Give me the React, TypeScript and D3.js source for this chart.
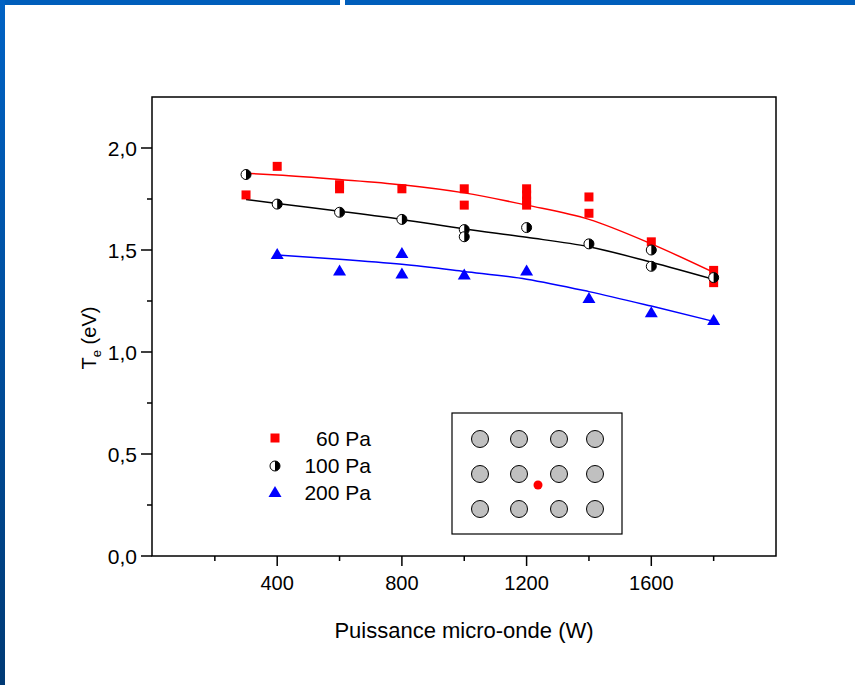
import React from "react";
import * as d3 from "d3";

// ---- Data ----
const power60 = [300, 400, 600, 600, 800, 1000, 1000, 1200, 1200, 1200, 1200, 1400, 1400, 1600, 1800, 1800];
const te60 = [1.77, 1.91, 1.82, 1.80, 1.80, 1.80, 1.72, 1.80, 1.77, 1.74, 1.72, 1.76, 1.68, 1.54, 1.40, 1.34];

const power100 = [300, 400, 600, 800, 1000, 1000, 1200, 1400, 1600, 1600, 1800];
const te100 = [1.87, 1.725, 1.685, 1.65, 1.60, 1.565, 1.61, 1.53, 1.50, 1.42, 1.365];

const power200 = [400, 600, 800, 800, 1000, 1200, 1400, 1600, 1800];
const te200 = [1.48, 1.40, 1.485, 1.385, 1.38, 1.40, 1.265, 1.195, 1.157];

const fitPower = [300, 400, 600, 800, 1000, 1200, 1400, 1600, 1800];
const fit60 = [1.876, 1.868, 1.846, 1.82, 1.78, 1.72, 1.65, 1.53, 1.39];
const fit100 = [1.748, 1.728, 1.69, 1.65, 1.603, 1.562, 1.516, 1.44, 1.356];
const fitPower200 = [400, 600, 800, 1000, 1200, 1400, 1600, 1800];
const fit200 = [1.475, 1.455, 1.43, 1.395, 1.357, 1.296, 1.225, 1.15];

const xMajorTicks = [400, 800, 1200, 1600];
const xMinorTicks = [200, 600, 1000, 1400, 1800];
const yMajorTicks = [0, 0.5, 1.0, 1.5, 2.0];
const yMinorTicks = [0.25, 0.75, 1.25, 1.75];

const legendLabels = ["60 Pa", "100 Pa", "200 Pa"];
const insetCols = [0, 1, 2, 3];
const insetRows = [0, 1, 2];

const FONT = "Arial, 'Liberation Sans', sans-serif";

export default function App() {
  const left = 152, right = 776, top = 97, bottom = 556;
  const x = d3.scaleLinear().domain([0, 2000]).range([left + 0.5, right]);
  const y = d3.scaleLinear().domain([0, 2.25]).range([bottom, top]);

  const line = d3
    .line<[number, number]>()
    .x((d) => x(d[0]))
    .y((d) => y(d[1]))
    .curve(d3.curveMonotoneX);

  const fmt = (v: number) => v.toFixed(1).replace(".", ",");

  const square = (cx: number, cy: number, key: string) => (
    <rect key={key} x={cx - 4.5} y={cy - 4.5} width={9} height={9} fill="#ff0000" />
  );
  const halfCircle = (cx: number, cy: number, key: string) => (
    <g key={key}>
      <circle cx={cx} cy={cy} r={5} fill="#ffffff" stroke="#000" strokeWidth={1} />
      <path d={`M${cx},${cy - 5} A5,5 0 0 1 ${cx},${cy + 5} Z`} fill="#000" />
    </g>
  );
  const triangle = (cx: number, cy: number, key: string) => (
    <path key={key} d={`M${cx},${cy - 6} L${cx + 6.5},${cy + 5} L${cx - 6.5},${cy + 5} Z`} fill="#0000ff" />
  );

  // inset layout
  const insetX = 452, insetY = 413, insetW = 170, insetH = 121;
  const colOffsets = [28, 67, 107, 143];
  const rowY = d3.scalePoint<number>().domain(insetRows).range([insetY + 26, insetY + 96]);

  return (
    <svg
      width={855}
      height={685}
      style={{ position: "absolute", left: 0, top: 0, background: "#fff" }}
      fontFamily={FONT}
    >
      <defs>
        <linearGradient id="leftbar" x1="0" y1="0" x2="0" y2="1">
          <stop offset="0" stopColor="#0062c4" />
          <stop offset="1" stopColor="#003a75" />
        </linearGradient>
      </defs>
      {/* frame decoration */}
      <rect x={0} y={0} width={340} height={5} fill="#005ebb" />
      <rect x={345} y={0} width={510} height={5} fill="#005ebb" />
      <rect x={0} y={0} width={5} height={685} fill="url(#leftbar)" />

      {/* axes box */}
      <rect x={left} y={top} width={right - left} height={bottom - top} fill="none" stroke="#000" strokeWidth={1.5} />

      {/* y ticks */}
      {yMajorTicks.map((t) => (
        <g key={"ym" + t}>
          <line x1={left - 11} x2={left} y1={y(t)} y2={y(t)} stroke="#000" strokeWidth={1.5} />
          <text x={left - 15} y={y(t)} dy="0.36em" textAnchor="end" fontSize={21} fill="#000">
            {fmt(t)}
          </text>
        </g>
      ))}
      {yMinorTicks.map((t) => (
        <line key={"yn" + t} x1={left - 5} x2={left} y1={y(t)} y2={y(t)} stroke="#000" strokeWidth={1.5} />
      ))}

      {/* x ticks */}
      {xMajorTicks.map((t) => (
        <g key={"xm" + t}>
          <line x1={x(t)} x2={x(t)} y1={bottom} y2={bottom + 10} stroke="#000" strokeWidth={1.5} />
          <text x={x(t)} y={bottom + 34} textAnchor="middle" fontSize={20} fill="#000">
            {t}
          </text>
        </g>
      ))}
      {xMinorTicks.map((t) => (
        <line key={"xn" + t} x1={x(t)} x2={x(t)} y1={bottom} y2={bottom + 5} stroke="#000" strokeWidth={1.5} />
      ))}

      {/* axis titles */}
      <text x={(left + right) / 2} y={638} textAnchor="middle" fontSize={22} fill="#000">
        Puissance micro-onde (W)
      </text>
      <text transform={`translate(96,338) rotate(-90)`} textAnchor="middle" fontSize={20} fill="#000">
        T<tspan fontSize={13} dy={5}>e</tspan>
        <tspan dy={-5}> (eV)</tspan>
      </text>

      {/* fit lines */}
      <path d={line(fitPower.map((p, i) => [p, fit60[i]]))!} fill="none" stroke="#ff0000" strokeWidth={1.5} />
      <path d={line(fitPower.map((p, i) => [p, fit100[i]]))!} fill="none" stroke="#000" strokeWidth={1.5} />
      <path d={line(fitPower200.map((p, i) => [p, fit200[i]]))!} fill="none" stroke="#0000ff" strokeWidth={1.5} />

      {/* points */}
      {power60.map((p, i) => square(x(p), y(te60[i]), "s" + i))}
      {power100.map((p, i) => halfCircle(x(p), y(te100[i]), "c" + i))}
      {power200.map((p, i) => triangle(x(p), y(te200[i]), "t" + i))}

      {/* legend */}
      {square(275, 438, "ls")}
      {halfCircle(275, 466, "lc")}
      {triangle(275, 492, "lt")}
      {legendLabels.map((l, i) => (
        <text key={l} x={371} y={446 + i * 27} textAnchor="end" fontSize={21} fill="#000">
          {l}
        </text>
      ))}

      {/* inset */}
      <rect x={insetX} y={insetY} width={insetW} height={insetH} fill="#fff" stroke="#000" strokeWidth={1.2} />
      {insetRows.map((r) =>
        insetCols.map((c) => (
          <circle
            key={`g${r}-${c}`}
            cx={insetX + colOffsets[c]}
            cy={rowY(r)!}
            r={8.5}
            fill="#c0c0c0"
            stroke="#000"
            strokeWidth={1}
          />
        ))
      )}
      <circle cx={538} cy={485} r={4.5} fill="#ff0000" />
    </svg>
  );
}
